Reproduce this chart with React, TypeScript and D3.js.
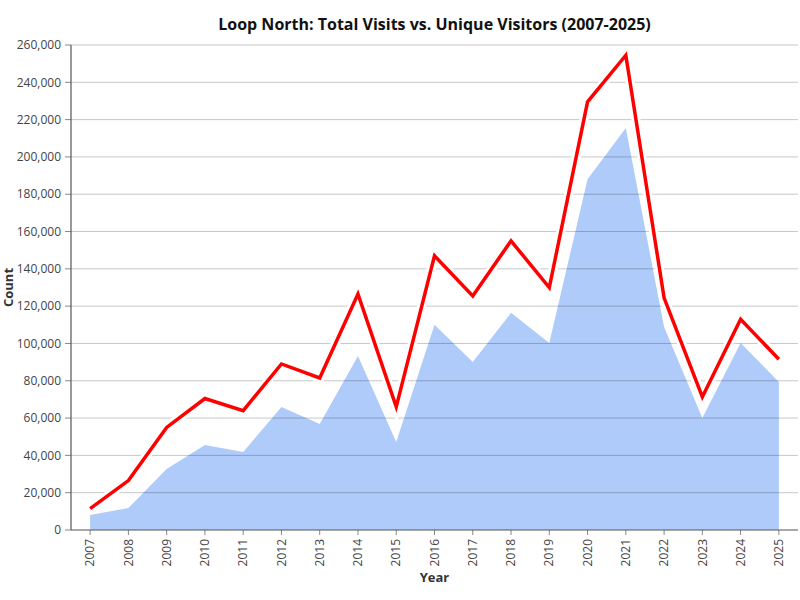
import React, { useEffect } from 'react';
import * as d3 from 'd3';

const years = [
  '2007', '2008', '2009', '2010', '2011', '2012', '2013', '2014', '2015', '2016',
  '2017', '2018', '2019', '2020', '2021', '2022', '2023', '2024', '2025',
];

// Total visits (red line)
const totalVisits = [
  11500, 26500, 55000, 70500, 64000, 89000, 81500, 126500, 66000, 147000,
  125500, 155000, 130000, 229500, 254500, 124500, 71300, 113000, 91500,
];

// Unique visitors (blue area)
const uniqueVisitors = [
  8000, 11800, 32700, 45600, 41800, 66000, 56800, 93300, 47200, 110000,
  90000, 116400, 100300, 188000, 215500, 108800, 60000, 100300, 79400,
];

const yTicks = d3.range(0, 260001, 20000);

const width = 800;
const height = 600;
const margin = { top: 45, right: 2, bottom: 70, left: 71 };
const font = '"Open Sans", "Noto Sans", sans-serif';

const App: React.FC = () => {
  useEffect(() => {
    document.body.style.margin = '0';
  }, []);

  const innerW = width - margin.left - margin.right;
  const innerH = height - margin.top - margin.bottom;

  const x = d3.scalePoint<string>().domain(years).range([0, innerW]).padding(0.5);
  const y = d3.scaleLinear().domain([0, 260000]).range([innerH, 0]);

  const area = d3.area<number>()
    .x((d, i) => x(years[i])!)
    .y0(innerH)
    .y1(d => y(d));

  const line = d3.line<number>()
    .x((d, i) => x(years[i])!)
    .y(d => y(d));

  const fmt = d3.format(',');

  return (
    <svg width={width} height={height} style={{ display: 'block', fontFamily: font }}>
      <text x={margin.left + innerW / 2} y={30} textAnchor="middle"
        fontSize={16} fontWeight="bold" fill="#111">
        Loop North: Total Visits vs. Unique Visitors (2007-2025)
      </text>
      <g transform={`translate(${margin.left},${margin.top})`}>
        <path d={area(uniqueVisitors)!} fill="#aecbfa" />
        {yTicks.map(t => (
          <g key={t} transform={`translate(0,${y(t)})`}>
            {t > 0 && <line x1={0} x2={innerW} stroke="#000" strokeOpacity={0.22} strokeWidth={1} />}
            <line x1={-6} x2={0} stroke="#888" />
            <text x={-10} dy="0.35em" textAnchor="end" fontSize={12} fill="#444">{fmt(t)}</text>
          </g>
        ))}
        {years.map(yr => (
          <g key={yr} transform={`translate(${x(yr)},${innerH})`}>
            <line y1={0} y2={5} stroke="#888" />
            <text transform="rotate(-90)" x={-9} dy="0.35em" textAnchor="end" fontSize={12} fill="#444">{yr}</text>
          </g>
        ))}
        <line x1={0} x2={0} y1={0} y2={innerH} stroke="#555" strokeWidth={1.2} />
        <line x1={0} x2={innerW} y1={innerH} y2={innerH} stroke="#555" strokeWidth={1.2} />
        <path d={line(totalVisits)!} fill="none" stroke="#fff" strokeWidth={9} strokeLinejoin="miter" />
        <path d={line(totalVisits)!} fill="none" stroke="#f00" strokeWidth={3.5} strokeLinejoin="miter" />
      </g>
      <text x={margin.left + innerW / 2} y={582} textAnchor="middle" fontSize={13} fontWeight="bold" fill="#333">Year</text>
      <text transform={`translate(13,${margin.top + innerH / 2}) rotate(-90)`} textAnchor="middle"
        fontSize={13} fontWeight="bold" fill="#333">Count</text>
    </svg>
  );
};

export default App;
